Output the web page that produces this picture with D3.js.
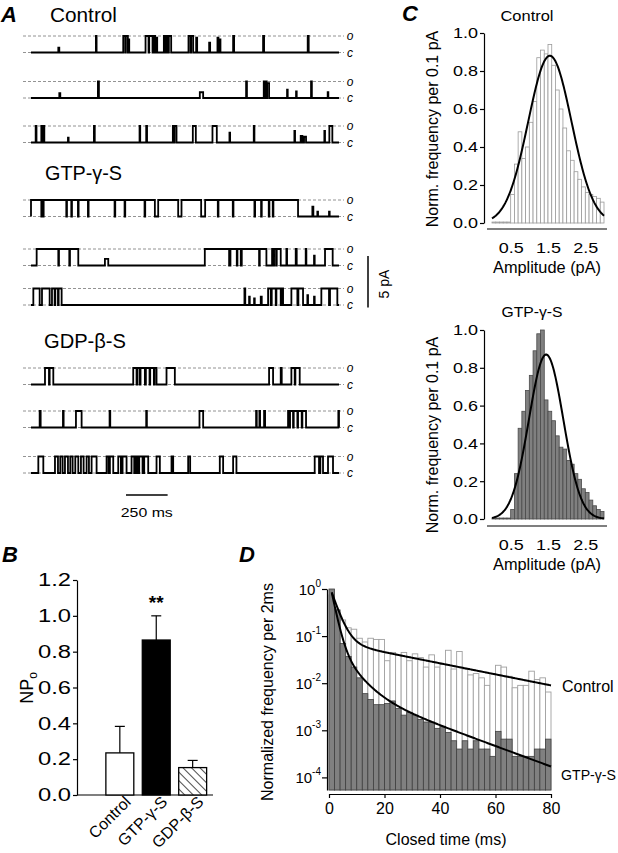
<!DOCTYPE html>
<html><head><meta charset="utf-8">
<script src="https://cdn.jsdelivr.net/npm/d3@7"></script>
<style>
body{margin:0;background:#fff}
svg{display:block}
</style>
</head><body>
<svg id="fig" width="618" height="853"></svg>
<script>
// ================= DATA =================
// Panel A: single-channel traces, open events [start ms, end ms, fraction of unitary level]
const traceDurationMs = 1850;
const traceControl1 = [[164,170,0.3],[390,394,1],[554,566,1],[570,582,1],[586,590,0.8],[688,706,1],[710,730,1],[738,746,1],[750,758,0.9],[798,804,1],[814,822,1],[828,842,1],[946,958,1],[962,974,1],[992,998,0.9],[1070,1076,0.6],[1120,1126,0.9],[1134,1138,0.8],[1214,1220,1],[1394,1400,1],[1662,1668,1]];
const traceControl2 = [[170,176,0.3],[402,408,1],[1014,1034,0.35],[1292,1297,1],[1398,1406,1],[1408,1416,1],[1418,1430,0.9],[1538,1542,0.5],[1592,1596,0.4],[1682,1687,1],[1782,1786,0.35]];
const traceControl3 = [[28,33,1],[62,66,1],[72,80,1],[222,226,0.3],[378,383,1],[652,656,1],[692,697,1],[852,858,1],[862,874,1],[972,990,1],[1090,1116,1],[1192,1196,0.6],[1338,1342,1],[1582,1586,0.7],[1620,1630,0.4],[1640,1652,0.35],[1762,1766,0.7],[1792,1810,1]];
const traceGtp1 = [[0,62,1],[66,72,1],[76,212,1],[216,242,1],[246,282,1],[286,342,1],[346,502,1],[506,562,1],[566,682,1],[686,744,1],[764,884,1],[904,1022,1],[1046,1122,1],[1126,1212,1],[1216,1342,1],[1346,1382,1],[1386,1428,1],[1432,1452,1],[1456,1604,1],[1690,1696,0.6],[1720,1724,0.3],[1790,1794,0.3]];
const traceGtp2 = [[34,164,1],[168,230,1],[234,284,1],[444,464,0.4],[1044,1190,1],[1198,1236,1],[1240,1260,1],[1266,1370,1],[1374,1414,1],[1448,1456,1],[1460,1472,1],[1476,1500,1],[1534,1538,1],[1590,1596,1],[1650,1654,1],[1700,1704,0.6],[1766,1812,1]];
const traceGtp3 = [[14,52,1],[66,112,1],[126,142,1],[146,162,1],[166,184,1],[1282,1287,1],[1310,1314,0.5],[1340,1344,0.4],[1380,1386,0.5],[1424,1440,1],[1446,1470,1],[1474,1500,1],[1504,1514,1],[1564,1600,1],[1606,1634,1],[1660,1664,0.6],[1700,1704,0.5],[1744,1790,1],[1796,1840,1]];
const traceGdp1 = [[84,108,1],[112,134,1],[614,634,1],[638,652,1],[658,684,1],[690,712,1],[716,738,1],[742,754,1],[814,864,1],[1430,1454,1],[1500,1506,1],[1564,1584,1],[1588,1614,1]];
const traceGdp2 = [[52,58,1],[192,196,1],[270,304,1],[472,476,1],[692,696,1],[1012,1034,1],[1352,1356,1],[1372,1376,1],[1400,1406,1],[1544,1552,1],[1556,1574,1],[1578,1600,1],[1604,1626,1],[1630,1652,1],[1846,1850,1]];
const traceGdp3 = [[44,74,1],[144,162,1],[176,190,1],[204,222,1],[236,250,1],[266,284,1],[300,316,1],[334,348,1],[364,394,1],[454,466,1],[474,494,1],[524,540,1],[550,574,1],[604,620,1],[630,640,1],[650,670,1],[680,704,1],[754,774,1],[844,854,1],[944,956,1],[1134,1154,1],[1214,1234,1],[1704,1730,1],[1738,1754,1],[1784,1814,1]];

// Panel B: NPo
const conditionNames = ["Control","GTP-γ-S","GDP-β-S"];
const npoMeans = [0.235, 0.865, 0.153];
const npoErrors = [0.148, 0.135, 0.040];
const npoTicks = [0,0.2,0.4,0.6,0.8,1.0,1.2];

// Panel C: amplitude histograms (0.1 pA bins)
const ampBinStarts = [0.0,0.1,0.2,0.3,0.4,0.5,0.6,0.7,0.8,0.9,1.0,1.1,1.2,1.3,1.4,1.5,1.6,1.7,1.8,1.9,2.0,2.1,2.2,2.3,2.4,2.5,2.6,2.7,2.8,2.9];
const ampControlFreq = [0.005,0.005,0.005,0.005,0.005,0.15,0.31,0.48,0.34,0.40,0.53,0.64,0.87,0.91,0.89,0.94,0.83,0.70,0.60,0.50,0.38,0.33,0.27,0.23,0.19,0.16,0.15,0.14,0.13,0.11];
const ampGtpFreq = [0.005,0.005,0.005,0.005,0.005,0.05,0.24,0.48,0.57,0.68,0.76,0.89,0.98,1.0,0.63,0.57,0.52,0.44,0.38,0.37,0.31,0.29,0.24,0.21,0.16,0.14,0.10,0.07,0.05,0.04];
const gaussControl = [0.88, 1.55, 0.58];   // amplitude, mean, sd
const gaussGtp = [0.87, 1.45, 0.46];
const ampTicksX = [0.5,1.5,2.5];
const ampTicksY = [0,0.2,0.4,0.6,0.8,1.0];

// Panel D: closed-time histograms (2 ms bins)
const closedBinStarts = [0,2,4,6,8,10,12,14,16,18,20,22,24,26,28,30,32,34,36,38,40,42,44,46,48,50,52,54,56,58,60,62,64,66,68,70,72,74,76,78];
const closedControlFreq = [0.75,0.30,0.22,0.15,0.14,0.09,0.075,0.09,0.085,0.085,0.03,0.045,0.04,0.045,0.03,0.042,0.035,0.022,0.04,0.022,0.025,0.05,0.02,0.047,0.02,0.015,0.016,0.013,0.009,0.016,0.024,0.022,0.014,0.008,0.009,0.009,0.018,0.012,0.013,0.0065];
const closedGtpFreq = [1.0,0.36,0.07,0.037,0.022,0.013,0.006,0.0045,0.0035,0.0035,0.0037,0.0042,0.0029,0.0021,0.0024,0.0021,0.0017,0.0015,0.0015,0.0011,0.0012,0.0009,0.0006,0.0004,0.0006,0.0004,0.0006,0.0004,0.0004,0.00028,0.00095,0.00065,0.00065,0.00028,0.00028,0.00028,0.00028,0.0004,0.0004,0.00065];
const expControlAmps = [1.17, 0.078];
const expControlTaus = [2.4, 37];
const expGtpAmps = [1.51, 0.084, 0.0093];
const expGtpTaus = [1.46, 5, 20];
const closedTicksX = [0,20,40,60,80];
const closedTicksY = [1,0.1,0.01,0.001,0.0001];

// ================= DRAWING =================
const FONT = '"Liberation Sans", Arial, Helvetica, sans-serif';
const svg = d3.select("#fig");
svg.append("rect").attr("width",618).attr("height",853).attr("fill","#fff");
const defs = svg.append("defs");
const pat = defs.append("pattern").attr("id","hatch").attr("patternUnits","userSpaceOnUse")
  .attr("width",6).attr("height",6).attr("patternTransform","rotate(-45)");
pat.append("rect").attr("width",6).attr("height",6).attr("fill","#fff");
pat.append("line").attr("x1",0).attr("y1",0).attr("x2",0).attr("y2",6).attr("stroke","#000").attr("stroke-width",1.4);

function txt(g, s, x, y, opts={}) {
  const t = g.append("text").attr("x",x).attr("y",y).text(s)
    .attr("font-family",FONT).attr("font-size",opts.size||14).attr("fill","#000");
  if (opts.anchor) t.attr("text-anchor",opts.anchor);
  if (opts.weight) t.attr("font-weight",opts.weight);
  if (opts.style) t.attr("font-style",opts.style);
  if (opts.len) t.attr("textLength",opts.len).attr("lengthAdjust","spacingAndGlyphs");
  if (opts.transform) t.attr("transform",opts.transform);
  return t;
}
function styleAxis(g, fs, len) {
  g.selectAll("path.domain").attr("stroke","#000").attr("stroke-width",1.2);
  g.selectAll(".tick line").attr("stroke","#000").attr("stroke-width",1.2);
  const t = g.selectAll(".tick text").attr("font-family",FONT).attr("font-size",fs).attr("fill","#000");
  if (len) t.attr("textLength",len).attr("lengthAdjust","spacingAndGlyphs");
}

// ---------- Panel A ----------
const gA = svg.append("g");
txt(gA,"A",1,22,{size:22,weight:"bold",style:"italic"});
txt(gA,"Control",50,22,{size:20,len:67});
txt(gA,"GTP-γ-S",45,180,{size:20,len:77});
txt(gA,"GDP-β-S",44,348,{size:20,len:82});

const xT = d3.scaleLinear().domain([0,traceDurationMs]).range([31,339]);
const traceRows = [
  [traceControl1, 52.5],[traceControl2, 98],[traceControl3, 142.5],
  [traceGtp1, 216.5],[traceGtp2, 265.5],[traceGtp3, 305],
  [traceGdp1, 384.5],[traceGdp2, 427.5],[traceGdp3, 473]
];
const unitary = 16.5;
traceRows.forEach(([events, yc]) => {
  const yS = d3.scaleLinear().domain([0,1]).range([yc, yc-unitary]);
  [0,1].forEach(l => {
    gA.append("line").attr("x1",23).attr("x2",344).attr("y1",yS(l)).attr("y2",yS(l))
      .attr("stroke","#777").attr("stroke-width",0.8).attr("stroke-dasharray","3,2");
  });
  const pts = [[0,0]];
  events.forEach(([s,e,l]) => { pts.push([s,0],[s,l],[e,l],[e,0]); });
  pts.push([traceDurationMs,0]);
  gA.append("path").attr("d", d3.line().x(d=>xT(d[0])).y(d=>yS(d[1]))(pts))
    .attr("fill","none").attr("stroke","#000").attr("stroke-width",1.8);
  txt(gA,"o",350,yS(1)+4,{size:12,style:"italic",anchor:"middle"});
  txt(gA,"c",350,yS(0)+4,{size:12,style:"italic",anchor:"middle"});
});
// scale bars
gA.append("line").attr("x1",xT(0)+95).attr("x2",xT(250)+95).attr("y1",495).attr("y2",495).attr("stroke","#000").attr("stroke-width",1.5);
txt(gA,"250 ms",(xT(0)+xT(250))/2+95,517,{size:13,anchor:"middle",len:52});
gA.append("line").attr("x1",368).attr("x2",368).attr("y1",256).attr("y2",256+unitary/1.6*5).attr("stroke","#000").attr("stroke-width",1.5);
txt(gA,"5 pA",0,0,{size:14,anchor:"middle",transform:"translate(389,284) rotate(-90)"});

// ---------- Panel B ----------
const gB = svg.append("g");
txt(gB,"B",2,562,{size:22,weight:"bold",style:"italic"});
const yB = d3.scaleLinear().domain([0,1.2]).range([795,580]);
const xB = d3.scaleBand().domain(conditionNames).range([101.5,211]).paddingInner(0.233).paddingOuter(0.12);
const axB = gB.append("g").attr("transform","translate(77,0)")
  .call(d3.axisLeft(yB).tickValues(npoTicks).tickFormat(d3.format(".1f")).tickSize(4).tickSizeOuter(0).tickPadding(2));
styleAxis(axB,18,33);
gB.append("line").attr("x1",77).attr("x2",213).attr("y1",yB(0)).attr("y2",yB(0)).attr("stroke","#000").attr("stroke-width",1.2);
const fills = ["#fff","#000","url(#hatch)"];
conditionNames.forEach((c,i) => {
  const x0 = xB(c), bw = xB.bandwidth(), cx = x0 + bw/2;
  gB.append("line").attr("x1",cx).attr("x2",cx).attr("y1",yB(npoMeans[i])).attr("y2",yB(npoMeans[i]+npoErrors[i])).attr("stroke","#000").attr("stroke-width",1.2);
  gB.append("line").attr("x1",cx-5).attr("x2",cx+5).attr("y1",yB(npoMeans[i]+npoErrors[i])).attr("y2",yB(npoMeans[i]+npoErrors[i])).attr("stroke","#000").attr("stroke-width",1.2);
  gB.append("rect").attr("x",x0).attr("width",bw).attr("y",yB(npoMeans[i])).attr("height",yB(0)-yB(npoMeans[i]))
    .attr("fill",fills[i]).attr("stroke","#000").attr("stroke-width",1.3);
  txt(gB,c,0,0,{size:16,anchor:"end",transform:`translate(${cx+12},${yB(0)+8}) rotate(-45)`});
});
txt(gB,"**",xB(conditionNames[1])+xB.bandwidth()/2,609,{size:19,weight:"bold",anchor:"middle"});
const npLab = gB.append("text").attr("transform","translate(33,688) rotate(-90)").attr("text-anchor","middle")
  .attr("font-family",FONT).attr("font-size",18);
npLab.append("tspan").text("NP");
npLab.append("tspan").text("o").attr("font-size",12).attr("dy",4);

// ---------- Panel C ----------
const gC = svg.append("g");
txt(gC,"C",402,21,{size:22,weight:"bold",style:"italic"});
const xC = d3.scaleLinear().domain([0,3]).range([492,604]);
function ampHist(freqs, fit, yTop, yZero, axisY, title, titleX, titleY, titleLen, labelCy, isGrey) {
  const yC = d3.scaleLinear().domain([0,1]).range([yZero,yTop]);
  const bars = gC.append("g");
  ampBinStarts.forEach((b,i) => {
    bars.append("rect").attr("x",xC(b)).attr("width",xC(b+0.1)-xC(b))
      .attr("y",yC(freqs[i])).attr("height",yC(0)-yC(freqs[i]))
      .attr("fill",isGrey?"#808080":"#fff").attr("stroke",isGrey?"#4a4a4a":"#9a9a9a").attr("stroke-width",0.8);
  });
  const fitPts = [];
  for (let a=0; a<=3.0001; a+=0.02) fitPts.push([a, fit[0]*Math.exp(-((a-fit[1])**2)/(2*fit[2]*fit[2]))]);
  gC.append("path").attr("d",d3.line().x(d=>xC(d[0])).y(d=>yC(d[1]))(fitPts))
    .attr("fill","none").attr("stroke","#000").attr("stroke-width",2);
  const ay = gC.append("g").attr("transform","translate(484,0)")
    .call(d3.axisLeft(yC).tickValues(ampTicksY).tickFormat(d3.format(".1f")).tickSize(4).tickSizeOuter(0).tickPadding(2));
  styleAxis(ay,15,25);
  const ax = gC.append("g").attr("transform",`translate(0,${axisY})`)
    .call(d3.axisBottom(xC).tickValues(ampTicksX).tickFormat(d3.format(".1f")).tickSize(0).tickPadding(13));
  styleAxis(ax,15,25);
  ax.select("path.domain").remove();
  gC.append("line").attr("x1",487).attr("x2",607).attr("y1",axisY).attr("y2",axisY).attr("stroke","#000").attr("stroke-width",1.2);
  txt(gC,"Amplitude (pA)",547,axisY+44,{size:16,anchor:"middle",len:108});
  txt(gC,title,titleX,titleY,{size:15,anchor:"middle",len:titleLen});
  txt(gC,"Norm. frequency per 0.1 pA",0,0,{size:16,anchor:"middle",transform:`translate(438,${labelCy}) rotate(-90)`});
}
ampHist(ampControlFreq, gaussControl, 33, 223, 229, "Control", 527, 21, 53, 129, false);
ampHist(ampGtpFreq, gaussGtp, 330, 519, 526, "GTP-γ-S", 532, 317, 61, 435, true);

// ---------- Panel D ----------
const gD = svg.append("g");
txt(gD,"D",239,562,{size:22,weight:"bold",style:"italic"});
const xD = d3.scaleLinear().domain([0,80]).range([329,551]);
const yD = d3.scaleLog().domain([5.4e-5,1]).range([790,589]);
closedBinStarts.forEach((t,i) => {
  gD.append("rect").attr("x",xD(t)).attr("width",xD(t+2)-xD(t))
    .attr("y",yD(closedControlFreq[i])).attr("height",yD.range()[0]-yD(closedControlFreq[i]))
    .attr("fill","#fff").attr("stroke","#a0a0a0").attr("stroke-width",0.9);
});
closedBinStarts.forEach((t,i) => {
  gD.append("rect").attr("x",xD(t)).attr("width",xD(t+2)-xD(t))
    .attr("y",yD(closedGtpFreq[i])).attr("height",yD.range()[0]-yD(closedGtpFreq[i]))
    .attr("fill","#808080").attr("stroke","#404040").attr("stroke-width",0.8);
});
function expCurve(amps, taus) {
  const pts = [];
  for (let t=1; t<=80.001; t+=0.25) {
    let v = 0; amps.forEach((a,k)=>{ v += a*Math.exp(-t/taus[k]); });
    pts.push([t,v]);
  }
  gD.append("path").attr("d",d3.line().x(d=>xD(d[0])).y(d=>yD(d[1]))(pts))
    .attr("fill","none").attr("stroke","#000").attr("stroke-width",2);
}
expCurve(expControlAmps, expControlTaus);
expCurve(expGtpAmps, expGtpTaus);
const ayD = gD.append("g").attr("transform","translate(327,0)")
  .call(d3.axisLeft(yD).tickValues(closedTicksY).tickFormat("").tickSize(5).tickSizeOuter(0));
styleAxis(ayD,15);
ayD.selectAll(".tick").each(function(v){
  const t = d3.select(this).append("text").attr("x",-6).attr("y",5.5).attr("text-anchor","end")
    .attr("font-family",FONT).attr("font-size",15).attr("fill","#000");
  t.append("tspan").text("10");
  t.append("tspan").text(String(Math.round(Math.log10(v)))).attr("font-size",10).attr("dy",-8);
});
const axD = gD.append("g").attr("transform","translate(0,794)")
  .call(d3.axisBottom(xD).tickValues(closedTicksX).tickSize(4).tickSizeOuter(0).tickPadding(5));
styleAxis(axD,16);
txt(gD,"Closed time (ms)",446,845,{size:16,anchor:"middle"});
txt(gD,"Normalized frequency per 2ms",0,0,{size:16,anchor:"middle",transform:"translate(273,692) rotate(-90)"});
txt(gD,"Control",562,692,{size:16});
txt(gD,"GTP-γ-S",561,780,{size:15,len:55});
</script>
</body></html>
